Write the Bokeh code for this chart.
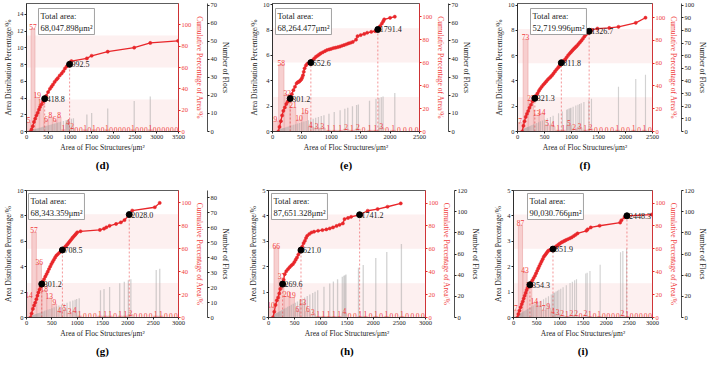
from bokeh.plotting import figure
from bokeh.layouts import column, row
from bokeh.models import Range1d, LinearAxis, FixedTicker, Label, Title, BoxAnnotation
from bokeh.core.properties import value
from bokeh.embed import file_html
from bokeh.resources import INLINE

FONT = "Liberation Serif"
RED = "#e8262a"
RED_TXT = "#f03c3c"
PINK = "#f6c8c8"
PINK_EDGE = "#eba3a3"
GREY = "#9c9c9c"
BAND = "#fbe4e4"

BIN = 100                      # bin width of the floc-count histogram, µm²
BANDS = [(0, 30), (60, 90)]    # shaded cumulative-percentage bands
CUM_TICKS = [0, 20, 40, 60, 80, 100]

# ---------------- (d) ----------------
D_TOTAL = 68047.898
D_COUNTS = [5, 57, 19, 15, 6, 8, 6, 8, 1, 4, 2, 0, 0, 1, 0, 1, 0, 0, 1, 0, 0, 0, 0, 0,
            1, 0, 0, 0, 1, 0, 0, 0, 0, 0, 0]
D_FLOCS = [108, 126, 143, 158, 172, 189, 204, 226, 248, 271, 296, 322, 349, 377, 404, 436,
           468, 503, 537, 571, 606, 642, 677, 712, 748, 783, 850, 912, 938, 961, 987, 1034,
           1081, 1390, 1500, 1870, 2480, 2850]
D_CUM_X = [92, 118, 145, 172, 200, 228, 258, 287, 312, 345, 378, 418.8, 455, 498, 540, 575,
           609, 648, 688, 720, 765, 810, 848, 885, 925, 960, 992.5, 1015, 1035, 1390, 1500,
           1870, 2480, 2850, 3490]
D_CUM_Y = [0, 2, 5, 9, 12, 15, 17.5, 20.5, 23, 25.5, 28, 30.8, 33.5, 37, 40, 42, 44, 46.5,
           48.5, 50, 52.5, 54.4, 56.5, 59, 61, 62, 63, 65, 66, 68.5, 71, 74.8, 78.6, 83, 85]
D_MARK_X = [418.8, 992.5]
D_MARK_Y = [30.8, 63.0]

# ---------------- (e) ----------------
E_TOTAL = 68264.477
E_COUNTS = [9, 58, 32, 21, 10, 16, 4, 3, 3, 1, 1, 1, 2, 1, 2, 0, 1, 1, 3, 0, 1, 0, 0, 0, 0]
E_FLOCS = [104, 121, 139, 155, 171, 188, 207, 228, 251, 276, 302, 331, 362, 395, 428, 462,
           497, 534, 572, 611, 650, 692, 735, 781, 829, 875, 960, 1050, 1150, 1230, 1280,
           1360, 1430, 1460, 1650, 1760, 1810, 1850, 1880, 2080]
E_CUM_X = [98, 120, 142, 164, 185, 210, 235, 258, 280, 301.2, 328, 355, 382, 410, 432, 453,
           472, 491, 505, 519, 532, 546, 568, 590, 620, 652.6, 680, 708, 737, 765, 792, 819,
           855, 892, 928, 965, 1000, 1037, 1073, 1110, 1146, 1182, 1218, 1255, 1291, 1328,
           1365, 1420, 1446, 1500, 1560, 1610, 1680, 1747, 1791.4, 1829, 1860, 1883, 1900,
           2000, 2080]
E_CUM_Y = [0, 4, 9, 14, 18, 21, 24, 26, 27.5, 28.7, 32.5, 36, 39, 42, 43, 43.4, 44.5, 45.5,
           47, 49, 52, 55, 57.5, 59, 59.6, 60, 62, 63.5, 65, 66, 67, 68, 69, 70, 71, 71.5, 72,
           72.7, 73, 73.5, 74, 74.7, 75.3, 76, 76.7, 77.3, 78, 80, 83, 84, 85, 86, 86.8, 87.4,
           88.9, 91.8, 94, 96, 97.7, 99, 100]
E_MARK_X = [301.2, 652.6, 1791.4]
E_MARK_Y = [28.7, 60.0, 88.9]

# ---------------- (f) ----------------
F_TOTAL = 52719.996
F_COUNTS = [7, 73, 25, 13, 14, 5, 4, 1, 1, 5, 2, 3, 1, 2, 0, 0, 0, 0, 1, 0, 0, 1, 0, 1, 0]
F_FLOCS = [96, 112, 128, 141, 155, 170, 186, 203, 222, 244, 268, 295, 324, 356, 390, 426,
           463, 505, 552, 610, 660, 760, 830, 910, 930, 955, 975, 990, 1030, 1080, 1120,
           1150, 1180, 1230, 1320, 1370, 1870, 2190, 2370]
F_CUM_X = [87, 110, 130, 152, 175, 198, 222, 250, 280, 300, 321.3, 345, 370, 396, 420, 448,
           477, 505, 532, 559, 586, 613, 640, 667, 695, 722, 750, 770, 787, 811.8, 835, 860,
           884, 910, 938, 966, 990, 1013, 1036, 1058, 1080, 1101, 1128, 1155, 1183, 1210,
           1237, 1264, 1291, 1326.7, 1373, 1480, 1700, 1870, 2190, 2370]
F_CUM_Y = [0, 5, 9, 12.8, 15.5, 18, 20.8, 23.5, 26.5, 27.8, 29.2, 31.5, 33.5, 35.7, 37.5,
           39.3, 41, 42.5, 44, 45.5, 46.8, 48, 49.4, 51, 52.8, 54.5, 56, 57.2, 58.3, 60.4,
           61.4, 62.4, 63.4, 65.2, 67, 68.5, 69.8, 71, 72.3, 73.3, 74.3, 75.3, 76.8, 78.3,
           79.8, 81.5, 83.3, 85, 86.6, 88.1, 89.3, 90.5, 91, 92, 95.5, 100]
F_MARK_X = [321.3, 811.8, 1326.7]
F_MARK_Y = [29.2, 60.4, 88.1]

# ---------------- (g) ----------------
G_TOTAL = 68343.359
G_COUNTS = [14, 57, 36, 18, 13, 9, 4, 5, 3, 4, 1, 0, 0, 0, 1, 1, 1, 0, 1, 1, 2, 0, 0, 0, 0,
            1, 1, 0, 0, 0]
G_FLOCS = [95, 112, 130, 147, 164, 182, 201, 222, 245, 270, 297, 326, 357, 390, 426, 463,
           503, 546, 592, 640, 690, 745, 800, 860, 915, 960, 990, 1040, 1460, 1530, 1640,
           1840, 1930, 2010, 2060, 2560, 2630]
G_CUM_X = [77, 100, 125, 150, 172, 195, 216, 236, 258, 280, 301.2, 325, 348, 372, 396, 420,
           444, 468, 491, 515, 539, 563, 587, 617, 647, 678, 708.5, 735, 760, 785, 810, 834,
           858, 882, 906, 930, 954, 978, 1002, 1066, 1449, 1530, 1576, 1640, 1768, 1863,
           1935, 2028, 2087, 2533, 2629]
G_CUM_Y = [0, 3.5, 7.5, 10.5, 13, 16, 19, 21.9, 24.5, 27, 29.2, 31.5, 33.5, 35.8, 37.9, 40,
           42.3, 44.5, 46.6, 48.5, 50.3, 52.2, 53.9, 55.2, 56.5, 57.7, 58.9, 60.2, 61.5,
           62.8, 64, 65.3, 66.7, 68, 69.4, 70.6, 71.8, 73, 74.3, 75.2, 76.4, 77.5, 78.7, 80,
           81.6, 83, 85, 89.8, 93.3, 96.2, 100]
G_MARK_X = [301.2, 708.5, 2028.0]
G_MARK_Y = [29.2, 58.9, 89.8]

# ---------------- (h) ----------------
H_TOTAL = 87651.328
H_COUNTS = [10, 66, 37, 20, 19, 6, 13, 6, 3, 1, 1, 1, 1, 1, 4, 0, 0, 1, 1, 0, 1, 0, 1, 0, 0,
            1, 0, 0, 0, 0]
H_FLOCS = [95, 110, 126, 142, 158, 175, 193, 212, 233, 256, 281, 308, 337, 368, 401, 436,
           473, 512, 553, 597, 643, 690, 740, 790, 845, 890, 940, 1060, 1170, 1240, 1320,
           1410, 1440, 1460, 1480, 1720, 1810, 2050, 2260, 2540]
H_CUM_X = [85, 110, 135, 160, 184, 205, 225, 247, 269.6, 290, 310, 340, 373, 405, 437, 468,
           495, 520, 544, 570, 595, 621.0, 645, 670, 695, 717, 739, 780, 821, 870, 948, 1030,
           1105, 1170, 1232, 1300, 1358, 1421, 1453, 1520, 1579, 1741.2, 1895, 2085, 2274,
           2527]
H_CUM_Y = [0, 5, 11, 15, 17.5, 21, 25, 28, 29.2, 33, 37.9, 40.5, 42.3, 44, 45.5, 46.7, 48.5,
           50.5, 52.4, 55, 57.4, 58.9, 62, 65, 67, 69.5, 71.4, 73, 74.3, 75, 75.8, 76.4, 77,
           77.8, 78.7, 80, 81, 82.2, 86, 87, 88, 89.8, 93.3, 94.8, 96.8, 99.7]
H_MARK_X = [269.6, 621.0, 1741.2]
H_MARK_Y = [29.2, 58.9, 89.8]

# ---------------- (i) ----------------
I_TOTAL = 90030.766
I_COUNTS = [7, 87, 43, 29, 14, 11, 7, 9, 4, 3, 2, 1, 2, 2, 0, 2, 1, 0, 1, 0, 0, 0, 0, 2, 1,
            0, 0, 0, 0, 0]
I_FLOCS = [95, 110, 125, 140, 156, 172, 190, 209, 230, 252, 276, 302, 330, 360, 392, 428,
           466, 507, 551, 598, 648, 700, 755, 815, 845, 870, 890, 920, 950, 980, 1020, 1070,
           1140, 1220, 1270, 1320, 1360, 1560, 1590, 1650, 1870, 2310, 2360, 2440]
I_CUM_X = [82, 105, 130, 155, 178, 200, 220, 241, 262, 283, 304, 330, 354.3, 380, 408, 435,
           463, 487, 511, 535, 558, 582, 606, 630, 653, 677, 701, 725, 748, 775, 800, 825,
           851.9, 880, 910, 938, 970, 1000, 1034, 1065, 1098, 1129, 1170, 1215, 1256, 1300,
           1340, 1382, 1573, 1600, 1668, 1858, 2302, 2330, 2397, 2448.3, 2985]
I_CUM_Y = [0, 3, 6, 9, 11.7, 14, 16.5, 19, 21.5, 24, 26, 27.3, 28.6, 30.5, 32.5, 34.5, 36.4,
           38.6, 40.8, 43, 45, 47, 49, 51, 53, 54.3, 55.6, 57, 58.3, 58.8, 59.2, 59.5, 59.8,
           60.8, 61.8, 62.7, 63.7, 64.6, 65.6, 66.2, 66.9, 67.6, 68.4, 69.2, 70, 71.2, 72.3,
           73.5, 75.8, 77, 78.7, 80.2, 83, 85, 87.5, 88.9, 90]
I_MARK_X = [354.3, 851.9, 2448.3]
I_MARK_Y = [28.6, 59.8, 88.9]

PANELS = [
    dict(name="d", total=D_TOTAL, counts=D_COUNTS, flocs=D_FLOCS, cx=D_CUM_X, cy=D_CUM_Y,
         mx=D_MARK_X, my=D_MARK_Y, x_end=3500, left_end=15.3, left_ticks=[0, 2, 4, 6, 8, 10, 12, 14],
         cum_end=120, num_end=71, num_ticks=[0, 10, 20, 30, 40, 50, 60, 70], cnt_end=71,
         box=(12, 5), geom=(246, 180, 21, 68, 3, 49)),
    dict(name="e", total=E_TOTAL, counts=E_COUNTS, flocs=E_FLOCS, cx=E_CUM_X, cy=E_CUM_Y,
         mx=E_MARK_X, my=E_MARK_Y, x_end=2500, left_end=10.1, left_ticks=[0, 2, 4, 6, 8, 10],
         cum_end=111.5, num_end=70.6, num_ticks=[0, 10, 20, 30, 40, 50, 60, 70], cnt_end=111,
         box=(3, 5), geom=(245, 180, 21, 72, 3, 49)),
    dict(name="f", total=F_TOTAL, counts=F_COUNTS, flocs=F_FLOCS, cx=F_CUM_X, cy=F_CUM_Y,
         mx=F_MARK_X, my=F_MARK_Y, x_end=2500, left_end=10.13, left_ticks=[0, 2, 4, 6, 8, 10],
         cum_end=112.5, num_end=101.3, num_ticks=[0, 10, 20, 30, 40, 50, 60, 70, 80, 90, 100],
         cnt_end=101.3, box=(13, 5), geom=(219, 180, 21, 44, 3, 49)),
    dict(name="g", total=G_TOTAL, counts=G_COUNTS, flocs=G_FLOCS, cx=G_CUM_X, cy=G_CUM_Y,
         mx=G_MARK_X, my=G_MARK_Y, x_end=3000, left_end=10, left_ticks=[0, 2, 4, 6, 8, 10],
         cum_end=110.8, num_end=84.9, num_ticks=[0, 10, 20, 30, 40, 50, 60, 70, 80],
         cnt_end=84.9, box=(2, 3), geom=(246, 186, 21, 68, 10, 49)),
    dict(name="h", total=H_TOTAL, counts=H_COUNTS, flocs=H_FLOCS, cx=H_CUM_X, cy=H_CUM_Y,
         mx=H_MARK_X, my=H_MARK_Y, x_end=3000, left_end=5, left_ticks=[0, 1, 2, 3, 4, 5],
         cum_end=111, num_end=120, num_ticks=[0, 20, 40, 60, 80, 100, 120], cnt_end=120,
         box=(3, 3), geom=(245, 186, 21, 66, 10, 49)),
    dict(name="i", total=I_TOTAL, counts=I_COUNTS, flocs=I_FLOCS, cx=I_CUM_X, cy=I_CUM_Y,
         mx=I_MARK_X, my=I_MARK_Y, x_end=3000, left_end=5, left_ticks=[0, 1, 2, 3, 4, 5],
         cum_end=111, num_end=120, num_ticks=[0, 20, 40, 60, 80, 100, 120], cnt_end=120,
         box=(14, 3), geom=(219, 186, 21, 40, 10, 49)),
]


def style_axis(ax, color, label_color=None):
    ax.axis_line_color = color
    ax.axis_line_width = 0.8
    ax.major_tick_line_color = color
    ax.major_tick_out = 2
    ax.major_tick_in = 0
    ax.minor_tick_line_color = None
    ax.major_label_text_font = FONT
    ax.major_label_text_font_size = "6.5px"
    ax.major_label_text_color = label_color or color
    ax.major_label_standoff = 1
    ax.axis_label_text_font = FONT
    ax.axis_label_text_font_size = "7.5px"
    ax.axis_label_text_font_style = "normal"
    ax.axis_label_text_color = label_color or color
    ax.axis_label_standoff = 1


def build(cfg):
    width, height, bl, br, bt, bb = cfg["geom"]
    p = figure(width=width, height=height, output_backend="svg", toolbar_location=None,
               x_range=Range1d(0, cfg["x_end"]), y_range=Range1d(0, cfg["left_end"]),
               min_border_left=bl, min_border_right=br, min_border_top=bt, min_border_bottom=bb,
               background_fill_color="white", border_fill_color="white")
    p.outline_line_color = "#333333"
    p.outline_line_width = 0.8
    p.grid.visible = False
    p.extra_y_ranges = {"cum": Range1d(0, cfg["cum_end"]),
                        "num": Range1d(0, cfg["num_end"]),
                        "cnt": Range1d(0, cfg["cnt_end"])}

    frame_w = width - bl - br
    unit_px = frame_w / cfg["x_end"]

    for lo, hi in BANDS:
        p.add_layout(BoxAnnotation(bottom=lo, top=hi, y_range_name="cum", fill_color=BAND,
                                   fill_alpha=0.55, line_alpha=0, level="underlay"))

    counts = cfg["counts"]
    centers = [k * BIN + BIN / 2 for k in range(len(counts))]
    p.vbar(x=centers, top=counts, bottom=0, width=BIN * 0.9, y_range_name="cnt",
           fill_color=PINK, fill_alpha=0.85, line_color=PINK_EDGE, line_width=0.6)

    shares = [a / cfg["total"] * 100 for a in cfg["flocs"]]
    p.vbar(x=cfg["flocs"], top=shares, bottom=0, width=1.3 / unit_px,
           fill_color=GREY, fill_alpha=0.45, line_alpha=0)

    p.segment(x0=cfg["mx"], y0=[0] * len(cfg["mx"]), x1=cfg["mx"], y1=cfg["my"],
              y_range_name="cum", line_color=RED, line_dash="2 2", line_width=0.7, line_alpha=0.7)

    p.line(cfg["cx"], cfg["cy"], y_range_name="cum", line_color=RED, line_width=1.3)
    p.scatter(cfg["cx"], cfg["cy"], y_range_name="cum", size=3.2, fill_color=RED,
              line_color=RED, line_width=0.5)

    p.text(x=centers, y=counts, text=[str(c) for c in counts], y_range_name="cnt",
           text_font=value(FONT), text_font_size="7.5px", text_color=RED_TXT,
           text_align="center", text_baseline="bottom", y_offset=1)

    p.scatter(cfg["mx"], cfg["my"], y_range_name="cum", size=6, fill_color="black",
              line_color="black")
    p.text(x=cfg["mx"], y=cfg["my"], text=[f"{v:.1f}" for v in cfg["mx"]], y_range_name="cum",
           x_offset=2, text_font=value(FONT), text_font_size="8px", text_color="#1a1a1a",
           text_align="left", text_baseline="middle")

    box_text = f"Total area:\n{cfg['total']:,.3f}μm²"
    dx, dy = cfg["box"]
    p.add_layout(Label(x=0, y=cfg["left_end"], x_offset=dx + 2, y_offset=-dy - 2,
                       text=box_text, text_font=FONT, text_font_size="8.5px", text_alpha=0,
                       text_baseline="top", text_align="left", padding=2,
                       background_fill_color="#b0b0b0", background_fill_alpha=0.8))
    p.add_layout(Label(x=0, y=cfg["left_end"], x_offset=dx, y_offset=-dy,
                       text=box_text, text_font=FONT, text_font_size="8.5px",
                       text_color="#1a1a1a", text_baseline="top", text_align="left",
                       padding=2, background_fill_color="white",
                       border_line_color="#8a8a8a", border_line_width=0.8))

    xa = p.xaxis[0]
    xa.ticker = FixedTicker(ticks=list(range(0, cfg["x_end"] + 1, 500)))
    xa.axis_label = "Area of Floc Structures/μm²"
    style_axis(xa, "#222222")

    ya = p.yaxis[0]
    ya.ticker = FixedTicker(ticks=cfg["left_ticks"])
    ya.axis_label = "Area Distribution Percentage/%"
    style_axis(ya, "#222222")

    ra = LinearAxis(y_range_name="cum", ticker=FixedTicker(ticks=CUM_TICKS),
                    axis_label="Cumulative Percentage of Area/%")
    style_axis(ra, RED, RED_TXT)
    p.add_layout(ra, "right")

    na = LinearAxis(y_range_name="num", ticker=FixedTicker(ticks=cfg["num_ticks"]),
                    axis_label="Number of Flocs")
    style_axis(na, "#222222")
    p.add_layout(na, "right")

    p.add_layout(Title(text=f"({cfg['name']})", align="center", text_font=FONT,
                       text_font_size="11px", text_font_style="bold", text_color="black",
                       standoff=5), "below")
    return p


figs = [build(c) for c in PANELS]
layout = column(row(*figs[:3], spacing=0), row(*figs[3:], spacing=0), spacing=0)
open("out.html", "w").write(file_html(layout, INLINE))
